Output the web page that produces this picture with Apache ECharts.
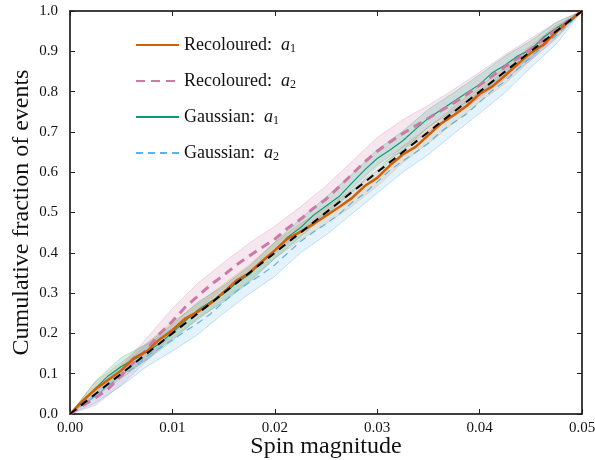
<!DOCTYPE html>
<html><head><meta charset="utf-8">
<script src="https://cdn.jsdelivr.net/npm/echarts@6/dist/echarts.min.js"></script>
<style>html,body{margin:0;padding:0;background:#fff}#c{width:595px;height:460px}</style>
</head><body><div id="c"></div>
<script>
// x grid of the curves
const xLine = [0,0.00125,0.0025,0.00375,0.005,0.00625,0.0075,0.00875,0.01,0.01125,0.0125,0.01375,0.015,0.01625,0.0175,0.01875,0.02,0.02125,0.0225,0.02375,0.025,0.02625,0.0275,0.02875,0.03,0.03125,0.0325,0.03375,0.035,0.03625,0.0375,0.03875,0.04,0.04125,0.0425,0.04375,0.045,0.04625,0.0475,0.04875,0.05];
const recolouredA1 = [0,.033,.062,.085,.108,.139,.156,.185,.208,.237,.254,.275,.302,.331,.350,.379,.406,.435,.452,.471,.492,.513,.535,.565,.586,.617,.644,.663,.692,.721,.742,.765,.794,.813,.840,.869,.896,.917,.948,.975,1.0];
const recolouredA2 = [0,.021,.040,.063,.096,.129,.160,.199,.230,.265,.293,.321,.344,.370,.392,.413,.434,.461,.483,.510,.533,.563,.594,.625,.652,.675,.696,.715,.734,.753,.772,.793,.816,.839,.862,.883,.906,.929,.954,.977,1.0];
const gaussianA1 = [0,.031,.064,.095,.118,.135,.154,.175,.202,.231,.258,.279,.298,.325,.346,.377,.406,.439,.462,.493,.516,.539,.572,.605,.634,.655,.678,.707,.734,.755,.776,.797,.818,.847,.866,.889,.904,.935,.958,.977,1.0];
const gaussianA2 = [0,.023,.044,.071,.092,.115,.144,.163,.184,.205,.226,.249,.278,.305,.326,.347,.370,.399,.428,.451,.472,.495,.524,.547,.576,.605,.628,.649,.672,.701,.724,.745,.774,.803,.826,.857,.886,.913,.940,.969,1.0];
// reference (uniform) line
const xRef = [0, 0.05];
const yRef = [0, 1.0];
// x grid of the credible bands
const xBand = [0,0.0025,0.005,0.0075,0.01,0.0125,0.015,0.0175,0.02,0.0225,0.025,0.0275,0.03,0.0325,0.035,0.0375,0.04,0.0425,0.045,0.0475,0.05];
const recA2Upper = [0,.062,.120,.188,.262,.325,.376,.424,.466,.514,.566,.626,.686,.730,.766,.806,.848,.892,.932,.972,1.0];
const recA2Lower = [0,.022,.072,.132,.198,.260,.312,.358,.402,.450,.500,.560,.618,.662,.700,.740,.784,.832,.878,.934,1.0];
const gauA2Upper = [0,.060,.116,.172,.212,.254,.306,.354,.398,.456,.500,.552,.604,.656,.700,.752,.800,.852,.908,.958,1.0];
const gauA2Lower = [0,.028,.070,.118,.156,.198,.250,.298,.342,.400,.444,.496,.548,.600,.644,.696,.746,.798,.860,.918,1.0];
const gauA1Upper = [0,.082,.140,.174,.222,.278,.318,.366,.426,.484,.538,.594,.656,.702,.756,.798,.842,.888,.926,.972,1.0];
const gauA1Lower = [0,.046,.096,.134,.182,.238,.278,.326,.386,.440,.494,.550,.612,.654,.712,.754,.794,.844,.882,.944,1.0];
const recA1Upper = [0,.080,.128,.176,.228,.274,.322,.370,.426,.472,.512,.555,.606,.664,.712,.762,.814,.860,.914,.964,1.0];
const recA1Lower = [0,.044,.088,.136,.188,.234,.282,.330,.386,.432,.472,.515,.566,.624,.672,.722,.774,.820,.878,.932,1.0];
// ticks
const xTicks = [0, 0.01, 0.02, 0.03, 0.04, 0.05];
const yTicks = [0,0.1,0.2,0.3,0.4,0.5,0.6,0.7,0.8,0.9,1.0];

const FONT = '"Liberation Serif","DejaVu Serif",serif';
const pairs = (xs, ys) => xs.map((x, i) => [x, ys[i]]);

function band(upper, lower, fill, stroke) {
  return {
    type: 'custom', silent: true, z: 1, clip: true,
    xAxisIndex: 0, yAxisIndex: 0,
    data: [[0, 0]],
    renderItem: function (params, api) {
      const pts = [];
      for (let i = 0; i < xBand.length; i++) pts.push(api.coord([xBand[i], upper[i]]));
      for (let i = xBand.length - 1; i >= 0; i--) pts.push(api.coord([xBand[i], lower[i]]));
      return { type: 'polygon', shape: { points: pts }, style: { fill: fill, stroke: stroke, lineWidth: 0.8 } };
    }
  };
}

const chart = echarts.init(document.getElementById('c'), null, { renderer: 'canvas' });
const axisCommon = {
  type: 'value',
  axisLine: { show: true, onZero: false, lineStyle: { color: '#000', width: 1.5 } },
  axisTick: { show: true, inside: true, length: 5, lineStyle: { color: '#222', width: 1 } },
  splitLine: { show: false }
};
const legendFmt = function (name) {
  const m = name.match(/^(.*): a(\d)$/);
  return m[1] + ':  {i|a}{s|' + m[2] + '}';
};
chart.setOption({
  animation: false,
  backgroundColor: '#fff',
  grid: { left: 70, right: 13, top: 11, bottom: 46, containLabel: false, outerBoundsMode: 'none' },
  legend: {
    left: 130, top: 31, orient: 'vertical',
    itemWidth: 43, itemHeight: 14, itemGap: 17,
    data: ['Recoloured: a1', 'Recoloured: a2', 'Gaussian: a1', 'Gaussian: a2'],
    formatter: legendFmt,
    itemStyle: { opacity: 0 },
    textStyle: {
      fontFamily: FONT, fontSize: 18, color: '#111',
      rich: {
        i: { fontFamily: FONT, fontStyle: 'italic', fontSize: 18, color: '#111' },
        s: { fontFamily: FONT, fontSize: 12, color: '#111', padding: [8, 0, 0, 0] }
      }
    }
  },
  xAxis: [
    Object.assign({}, axisCommon, {
      min: 0, max: 0.05, interval: 0.01, position: 'bottom',
      axisLabel: { margin: 7, fontFamily: FONT, fontSize: 15, color: '#111', formatter: v => v.toFixed(2) },
      name: 'Spin magnitude', nameLocation: 'middle', nameGap: 21, nameMoveOverlap: false,
      nameTextStyle: { fontFamily: FONT, fontSize: 24, color: '#111' }
    }),
    Object.assign({}, axisCommon, {
      min: 0, max: 0.05, interval: 0.01, position: 'top', axisLabel: { show: false }
    })
  ],
  yAxis: [
    Object.assign({}, axisCommon, {
      min: 0, max: 1, interval: 0.1, position: 'left',
      axisLabel: { margin: 12, fontFamily: FONT, fontSize: 15, color: '#111', formatter: v => v.toFixed(1) },
      name: 'Cumulative fraction of events', nameLocation: 'middle', nameGap: 36, nameMoveOverlap: false,
      nameTextStyle: { fontFamily: FONT, fontSize: 24, color: '#111' }
    }),
    Object.assign({}, axisCommon, {
      min: 0, max: 1, interval: 0.1, position: 'right', axisLabel: { show: false }
    })
  ],
  series: [
    band(recA1Upper, recA1Lower, 'rgba(230,140,60,0.18)', 'rgba(230,140,60,0.35)'),
    band(recA2Upper, recA2Lower, 'rgba(204,121,167,0.18)', 'rgba(204,121,167,0.35)'),
    band(gauA1Upper, gauA1Lower, 'rgba(0,158,115,0.16)', 'rgba(0,158,115,0.3)'),
    band(gauA2Upper, gauA2Lower, 'rgba(86,180,233,0.16)', 'rgba(86,180,233,0.45)'),
    { name: 'Gaussian: a2', type: 'line', data: pairs(xLine, gaussianA2), symbol: 'none', z: 3,
      lineStyle: { color: '#56B4E9', width: 1.2, type: [7, 5] }, itemStyle: { color: '#56B4E9' } },
    { name: 'Gaussian: a1', type: 'line', data: pairs(xLine, gaussianA1), symbol: 'none', z: 3,
      lineStyle: { color: '#009E73', width: 1.1 }, itemStyle: { color: '#009E73' } },
    { name: 'Recoloured: a2', type: 'line', data: pairs(xLine, recolouredA2), symbol: 'none', z: 4,
      lineStyle: { color: '#CC79A7', width: 3, type: [9, 6] }, itemStyle: { color: '#CC79A7' } },
    { name: 'Recoloured: a1', type: 'line', data: pairs(xLine, recolouredA1), symbol: 'none', z: 5,
      lineStyle: { color: '#D55E00', width: 2.5 }, itemStyle: { color: '#D55E00' } },
    { name: 'ref', type: 'line', data: pairs(xRef, yRef), symbol: 'none', z: 6,
      lineStyle: { color: '#000', width: 2, type: [8, 6] } }
  ]
});
</script></body></html>
